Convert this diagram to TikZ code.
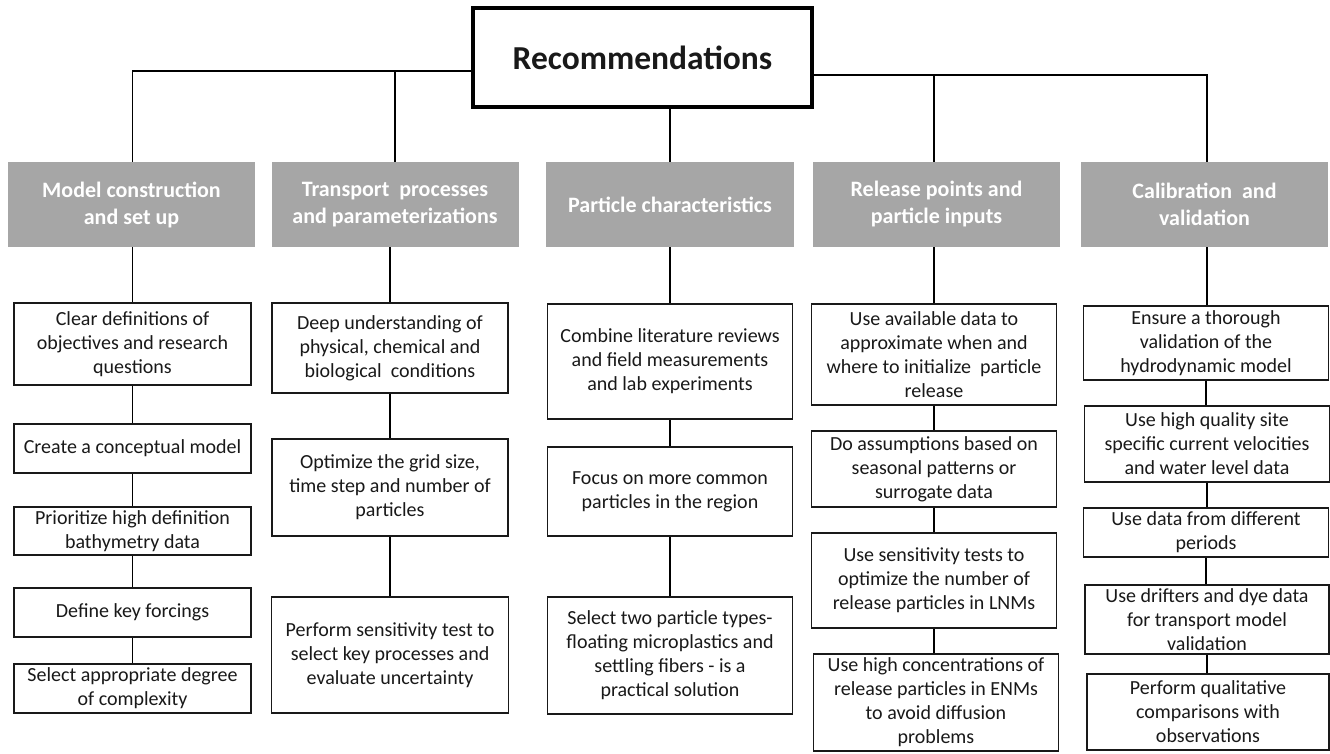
\documentclass[tikz,border=0pt]{standalone}
\usepackage{fontspec}
\setmainfont{Carlito}
\usepackage{tikz}
\usetikzlibrary{positioning}

\definecolor{headgray}{RGB}{166,166,166}
\definecolor{inkgray}{RGB}{25,25,25}

\tikzset{
  topbox/.style={draw=black, line width=3.5pt, fill=white, minimum width=339pt, minimum height=99pt,
    font=\fontsize{33.5}{40}\selectfont\bfseries, text=inkgray},
  headbox/.style={fill=headgray, minimum width=247pt, minimum height=85pt, align=center, inner sep=0pt,
    font=\fontsize{22}{27}\selectfont\bfseries, text=white},
  recbox/.style={draw=inkgray, line width=1.6pt, fill=white, align=center, inner sep=0pt,
    font=\fontsize{20}{24}\selectfont, text=inkgray},
  link/.style={line width=1.5pt, draw=black}
}

\begin{document}
\begin{tikzpicture}[x=1pt, y=-1pt]
  \useasboundingbox (0,0) rectangle (1330,753);

  %タイトル
  \node[topbox] (top) at (642.5,57.5) {Recommendations};

  %見出し
  \node[headbox] (h1) at (131.5,204.5) {Model construction\\and set up};
  \node[headbox] (h2) at (395,204.5) {Transport\ \ processes\\and parameterizations};
  \node[headbox, minimum width=248pt] (h3) at (670,204.5) {Particle characteristics};
  \node[headbox] (h4) at (936.5,204.5) {Release points and\\particle inputs};
  \node[headbox] (h5) at (1204.5,204.5) {Calibration\ \ and\\validation};

  %1列目
  \node[recbox, minimum width=237pt, minimum height=82pt] (a1) at (132.5,344) {Clear definitions of\\objectives and research\\questions};
  \node[recbox, minimum width=237pt, minimum height=49pt] (a2) at (132.5,448.5) {Create a conceptual model};
  \node[recbox, minimum width=237pt, minimum height=48pt] (a3) at (132.5,531) {Prioritize high definition\\bathymetry data};
  \node[recbox, minimum width=237pt, minimum height=49pt] (a4) at (132.5,612.5) {Define key forcings};
  \node[recbox, minimum width=237pt, minimum height=49pt] (a5) at (132.5,688.5) {Select appropriate degree\\of complexity};

  %2列目
  \node[recbox, minimum width=236pt, minimum height=90pt] (b1) at (390,348) {Deep understanding of\\physical, chemical and\\biological\ \ conditions};
  \node[recbox, minimum width=236pt, minimum height=97pt] (b2) at (390,487.5) {Optimize the grid size,\\time step and number of\\particles};
  \node[recbox, minimum width=237pt, minimum height=116pt] (b3) at (390,655) {Perform sensitivity test to\\select key processes and\\evaluate uncertainty};

  %3列目
  \node[recbox, minimum width=245pt, minimum height=115pt] (c1) at (670,361.5) {Combine literature reviews\\and field measurements\\and lab experiments};
  \node[recbox, minimum width=245pt, minimum height=89pt] (c2) at (670,491.5) {Focus on more common\\particles in the region};
  \node[recbox, minimum width=245pt, minimum height=117pt] (c3) at (670,655.5) {Select two particle types-\\floating microplastics and\\settling fibers - is a\\practical solution};

  %4列目
  \node[recbox, minimum width=245pt, minimum height=101pt] (d1) at (934,354.5) {Use available data to\\approximate when and\\where to initialize\ \ particle\\release};
  \node[recbox, minimum width=245pt, minimum height=76pt] (d2) at (934,469) {Do assumptions based on\\seasonal patterns or\\surrogate data};
  \node[recbox, minimum width=245pt, minimum height=95pt] (d3) at (934,580.5) {Use sensitivity tests to\\optimize the number of\\release particles in LNMs};
  \node[recbox, minimum width=245pt, minimum height=97pt] (d4) at (936,702.5) {Use high concentrations of\\release particles in ENMs\\to avoid diffusion\\problems};

  %5列目
  \node[recbox, minimum width=245pt, minimum height=74pt] (e1) at (1206,343) {Ensure a thorough\\validation of the\\hydrodynamic model};
  \node[recbox, minimum width=245pt, minimum height=76pt] (e2) at (1207,444) {Use high quality site\\specific current velocities\\and water level data};
  \node[recbox, minimum width=245pt, minimum height=49pt] (e3) at (1206,532.5) {Use data from different\\periods};
  \node[recbox, minimum width=244pt, minimum height=69pt] (e4) at (1207,619.5) {Use drifters and dye data\\for transport model\\validation};
  \node[recbox, minimum width=242pt, minimum height=76pt] (e5) at (1208,712) {Perform qualitative\\comparisons with\\observations};

  %分岐線
  \coordinate (jl) at (473,71);
  \coordinate (jr) at (812,75);
  \draw[link] (jl) -| (h1.north -| a1);
  \draw[link] (jl -| h2) -- (h2);
  \draw[link] (top.south -| c1) -- (h3.north -| c1);
  \draw[link] (jr) -| (h5.north -| e2);
  \draw[link] (jr -| d1) -- (h4.north -| d1);

  %縦線
  \draw[link] (h1.south -| a1) -- (a1);
  \draw[link] (a1) -- (a2);
  \draw[link] (a2) -- (a3);
  \draw[link] (a3) -- (a4);
  \draw[link] (a4) -- (a5);

  \draw[link] (h2.south -| b1) -- (b1);
  \draw[link] (b1) -- (b2);
  \draw[link] (b2) -- (b3);

  \draw[link] (h3.south -| c1) -- (c1);
  \draw[link] (c1) -- (c2);
  \draw[link] (c2) -- (c3);

  \draw[link] (h4.south -| d1) -- (d1);
  \draw[link] (d1) -- (d2);
  \draw[link] (d2) -- (d2 |- d3.north);
  \draw[link] (d3) -- (d3 |- d4.north);

  \draw[link] (h5.south -| e2) -- (e2 |- e1.north);
  \draw[link] (e1) -- (e1 |- e2.north);
  \draw[link] (e2) -- (e2 |- e3.north);
  \draw[link] (e3) -- (e3 |- e4.north);
  \draw[link] (e4) -- (e4 |- e5.north);
\end{tikzpicture}
\end{document}
